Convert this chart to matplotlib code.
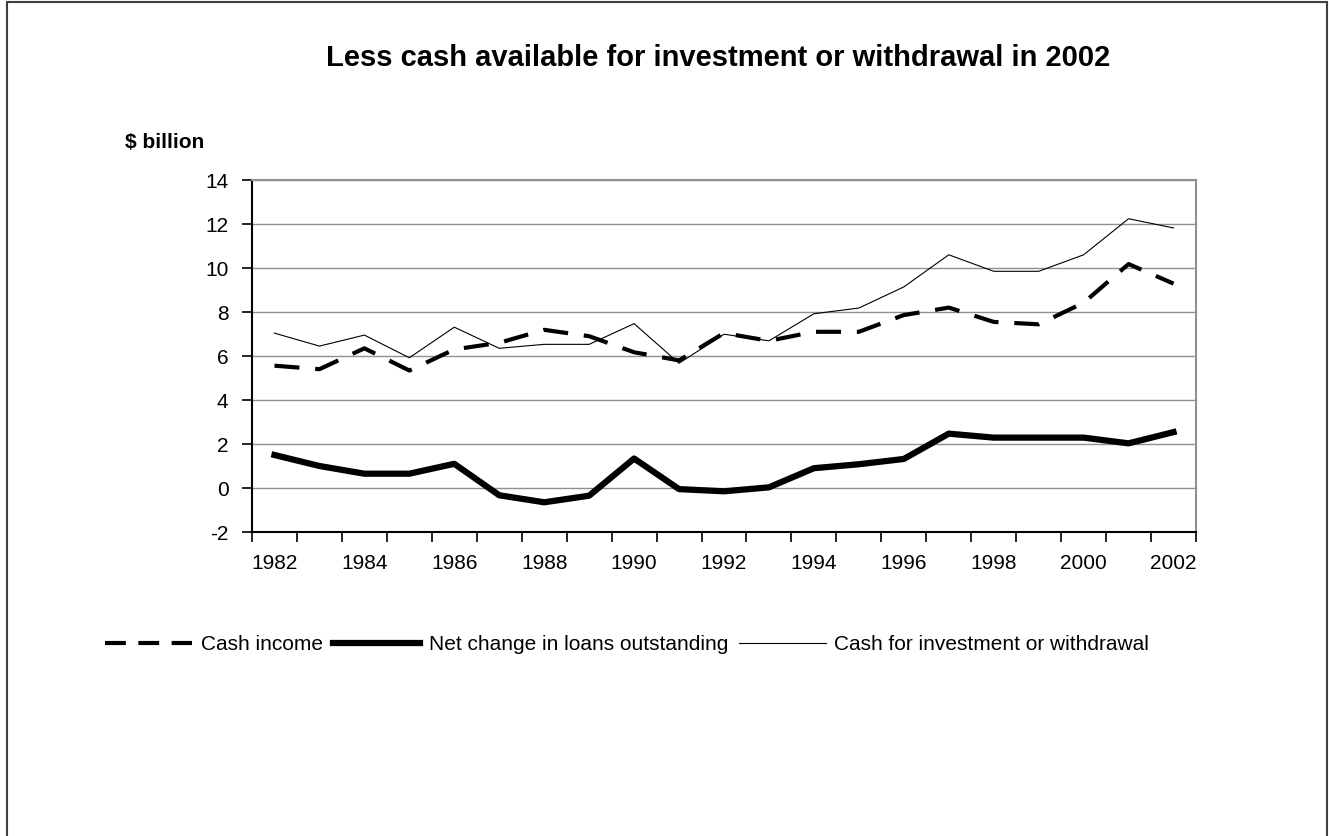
import matplotlib
matplotlib.use("Agg")
import matplotlib.pyplot as plt
from matplotlib.lines import Line2D
from matplotlib.patches import Rectangle

years = list(range(1982, 2003))
cash_income = [5.56, 5.4, 6.35, 5.34, 6.3, 6.6, 7.19, 6.9, 6.17, 5.8, 7.04,
               6.69, 7.1, 7.1, 7.86, 8.2, 7.55, 7.44, 8.42, 10.18, 9.29]
net_change = [1.5, 1.0, 0.65, 0.65, 1.1, -0.33, -0.65, -0.35, 1.34, -0.05, -0.15,
              0.03, 0.9, 1.08, 1.32, 2.47, 2.29, 2.29, 2.29, 2.03, 2.54]
cash_invest = [7.04, 6.45, 6.95, 5.92, 7.31, 6.35, 6.53, 6.53, 7.47, 5.67, 6.99,
               6.69, 7.92, 8.18, 9.14, 10.6, 9.85, 9.85, 10.6, 12.24, 11.82]
series_names = ["Cash income", "Net change in loans outstanding",
                "Cash for investment or withdrawal"]
title = "Less cash available for investment or withdrawal in 2002"
y_label = "$ billion"

plt.rcParams['font.family'] = ['Liberation Sans', 'DejaVu Sans']
plt.rcParams['axes.unicode_minus'] = False

fig = plt.figure(figsize=(13.29, 8.36), dpi=100)
ax = fig.add_axes([252/1329, 1 - 532/836, (1196-252)/1329, (532-180)/836])

x = list(range(len(years)))
ax.plot(x, cash_income, color='black', lw=3.0, dashes=(6, 3.8),
        dash_capstyle='butt', zorder=3)
ax.plot(x, net_change, color='black', lw=4.5, zorder=3)
ax.plot(x, cash_invest, color='black', lw=0.8, zorder=3)

ax.set_xlim(-0.5, len(years) - 0.5)
ax.set_ylim(-2, 14)
ax.set_yticks(range(-2, 15, 2))
ax.yaxis.grid(True, color='#909090', lw=1.0)
ax.set_axisbelow(True)

ax.set_xticks([i - 0.5 for i in range(len(years) + 1)])
ax.set_xticklabels([])
ax.set_xticks(x[::2], minor=True)
ax.set_xticklabels([str(y) for y in years[::2]], minor=True)
ax.tick_params(axis='x', which='major', direction='out', length=7, width=1.2, color='black')
ax.tick_params(axis='x', which='minor', length=0, pad=16, labelsize=15)
ax.tick_params(axis='y', direction='out', length=7, width=1.2, pad=10, labelsize=15)

for s in ['top', 'right']:
    ax.spines[s].set_color('#909090')
    ax.spines[s].set_linewidth(1.5)
for s in ['left', 'bottom']:
    ax.spines[s].set_color('black')
    ax.spines[s].set_linewidth(1.5)

fig.text(718/1329, 1 - 58/836, title, ha='center', va='center',
         fontsize=21, fontweight='bold')
fig.text(125/1329, 1 - 148/836, y_label, ha='left', va='baseline',
         fontsize=15, fontweight='bold')

h1 = Line2D([], [], color='black', lw=3.0, dashes=(5, 3), dash_capstyle='butt')
h2 = Line2D([], [], color='black', lw=4.5)
h3 = Line2D([], [], color='black', lw=0.8)
fig.legend([h1, h2, h3], series_names, loc='center', ncol=3,
           bbox_to_anchor=(627/1329, 1 - 645/836), frameon=False,
           fontsize=15, handlelength=4.2, handletextpad=0.4, columnspacing=0.5)

fig.patches.append(Rectangle((7/1329, -0.01), (1327-7)/1329, 1.008, transform=fig.transFigure,
                             fill=False, edgecolor='#404040', lw=1.5))

fig.savefig("out.png", dpi=100)
